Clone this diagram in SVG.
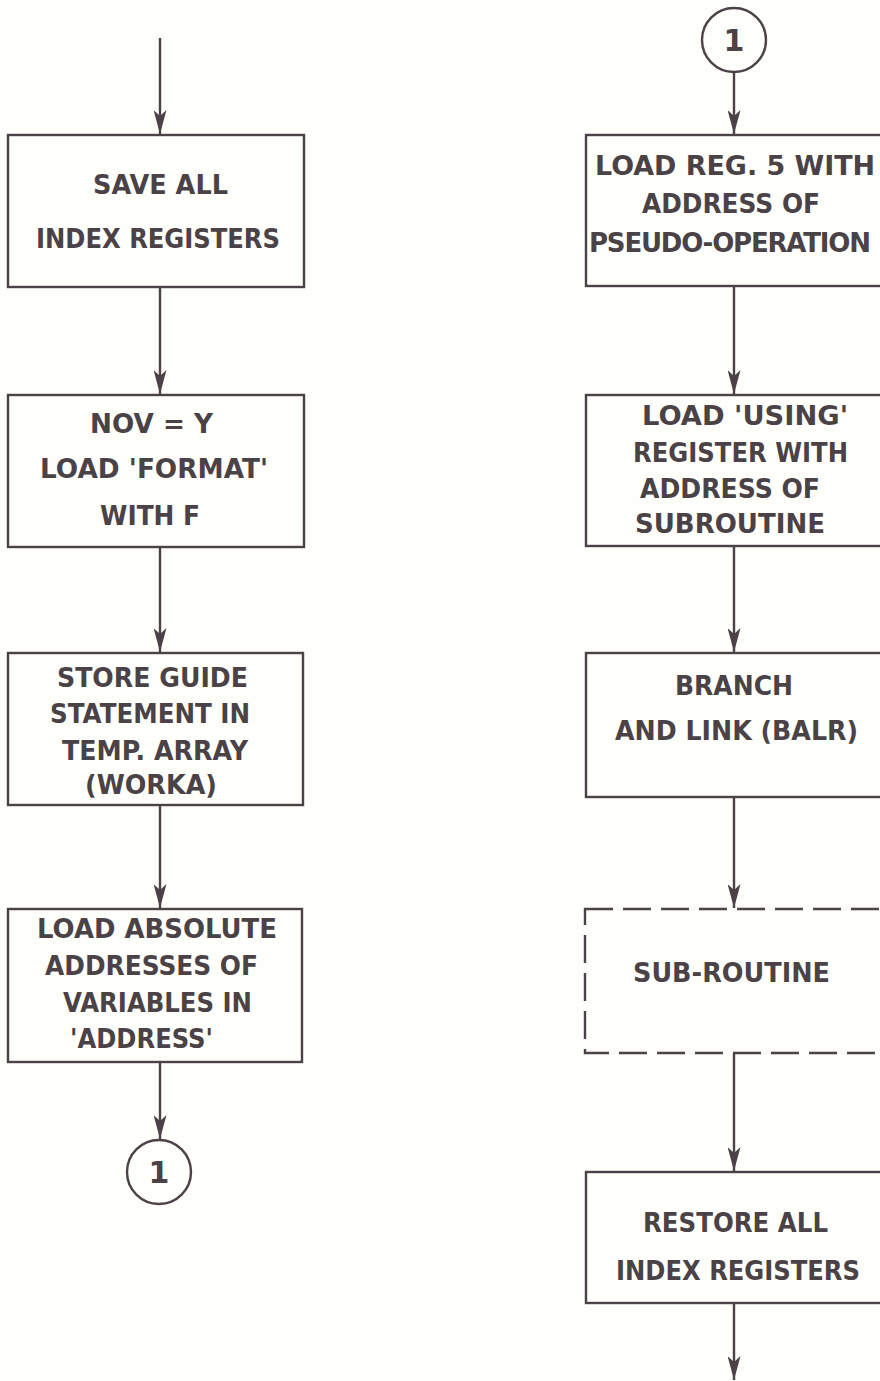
<svg xmlns="http://www.w3.org/2000/svg" width="880" height="1381" viewBox="0 0 880 1381">
<style>
.box{fill:none;stroke:#4a4246;stroke-width:2.4}
.dash{fill:none;stroke:#4a4246;stroke-width:2.4;stroke-dasharray:28 10}
.ln{fill:none;stroke:#4a4246;stroke-width:2.4}
.t{font-family:"DejaVu Sans","Liberation Sans",sans-serif;font-weight:bold;font-size:26px;fill:#4a4246}
.n{font-family:"DejaVu Sans","Liberation Sans",sans-serif;font-weight:bold;font-size:30px;fill:#4a4246}
</style>
<defs>
<marker id="ahd" viewBox="0 0 13 24" refX="6.5" refY="24" markerWidth="13" markerHeight="24" markerUnits="userSpaceOnUse" orient="0">
<path d="M0,0 L6.5,24 L13,0 L6.5,6 Z" fill="#4a4246"/>
</marker>
</defs>
<rect width="880" height="1381" fill="#fefefb"/>
<g id="connectors">
<line class="ln" x1="160" y1="38" x2="160" y2="134" marker-end="url(#ahd)"/>
<line class="ln" x1="160" y1="287" x2="160" y2="394" marker-end="url(#ahd)"/>
<line class="ln" x1="160" y1="547" x2="160" y2="652" marker-end="url(#ahd)"/>
<line class="ln" x1="160" y1="805" x2="160" y2="908" marker-end="url(#ahd)"/>
<line class="ln" x1="160" y1="1062" x2="160" y2="1139" marker-end="url(#ahd)"/>
<line class="ln" x1="734" y1="72" x2="734" y2="134" marker-end="url(#ahd)"/>
<line class="ln" x1="734" y1="286" x2="734" y2="394" marker-end="url(#ahd)"/>
<line class="ln" x1="734" y1="546" x2="734" y2="652" marker-end="url(#ahd)"/>
<line class="ln" x1="734" y1="797" x2="734" y2="908" marker-end="url(#ahd)"/>
<line class="ln" x1="734" y1="1053" x2="734" y2="1171" marker-end="url(#ahd)"/>
<line class="ln" x1="734" y1="1303" x2="734" y2="1380" marker-end="url(#ahd)"/>
</g>
<g id="n1">
<rect class="box" x="8" y="135" width="296" height="152"/>
<text class="t" x="93" y="194" textLength="135" lengthAdjust="spacingAndGlyphs">SAVE ALL</text>
<text class="t" x="36" y="248" textLength="244" lengthAdjust="spacingAndGlyphs">INDEX REGISTERS</text>
</g>
<g id="n2">
<rect class="box" x="8" y="395" width="296" height="152"/>
<text class="t" x="90" y="433" textLength="123" lengthAdjust="spacingAndGlyphs">NOV = Y</text>
<text class="t" x="40" y="478" textLength="228" lengthAdjust="spacingAndGlyphs">LOAD 'FORMAT'</text>
<text class="t" x="100" y="525" textLength="100" lengthAdjust="spacingAndGlyphs">WITH F</text>
</g>
<g id="n3">
<rect class="box" x="8" y="653" width="295" height="152"/>
<text class="t" x="57" y="687" textLength="191" lengthAdjust="spacingAndGlyphs">STORE GUIDE</text>
<text class="t" x="50" y="723" textLength="200" lengthAdjust="spacingAndGlyphs">STATEMENT IN</text>
<text class="t" x="62" y="760" textLength="186" lengthAdjust="spacingAndGlyphs">TEMP. ARRAY</text>
<text class="t" x="85" y="794" textLength="132" lengthAdjust="spacingAndGlyphs">(WORKA)</text>
</g>
<g id="n4">
<rect class="box" x="8" y="909" width="294" height="153"/>
<text class="t" x="37" y="938" textLength="240" lengthAdjust="spacingAndGlyphs">LOAD ABSOLUTE</text>
<text class="t" x="45" y="975" textLength="213" lengthAdjust="spacingAndGlyphs">ADDRESSES OF</text>
<text class="t" x="63" y="1012" textLength="189" lengthAdjust="spacingAndGlyphs">VARIABLES IN</text>
<text class="t" x="70" y="1048" textLength="143" lengthAdjust="spacingAndGlyphs">'ADDRESS'</text>
</g>
<g id="c1a">
<circle class="box" cx="159" cy="1172" r="32"/>
<text class="n" x="159" y="1183" text-anchor="middle">1</text>
</g>
<g id="c1b">
<circle class="box" cx="734" cy="40" r="32"/>
<text class="n" x="734" y="51" text-anchor="middle">1</text>
</g>
<g id="r1">
<rect class="box" x="586" y="135" width="300" height="151"/>
<text class="t" x="595" y="175" textLength="280" lengthAdjust="spacingAndGlyphs">LOAD REG. 5 WITH</text>
<text class="t" x="642" y="213" textLength="178" lengthAdjust="spacingAndGlyphs">ADDRESS OF</text>
<text class="t" x="589" y="252" style="letter-spacing:-1.2px">PSEUDO-OPERATION</text>
</g>
<g id="r2">
<rect class="box" x="586" y="395" width="300" height="151"/>
<text class="t" x="642" y="425" textLength="206" lengthAdjust="spacingAndGlyphs">LOAD 'USING'</text>
<text class="t" x="633" y="462" textLength="215" lengthAdjust="spacingAndGlyphs">REGISTER WITH</text>
<text class="t" x="640" y="498" textLength="180" lengthAdjust="spacingAndGlyphs">ADDRESS OF</text>
<text class="t" x="635" y="533" textLength="190" lengthAdjust="spacingAndGlyphs">SUBROUTINE</text>
</g>
<g id="r3">
<rect class="box" x="586" y="653" width="300" height="144"/>
<text class="t" x="675" y="695" textLength="118" lengthAdjust="spacingAndGlyphs">BRANCH</text>
<text class="t" x="615" y="740" textLength="243" lengthAdjust="spacingAndGlyphs">AND LINK (BALR)</text>
</g>
<g id="r4">
<rect class="dash" x="585" y="909" width="301" height="144"/>
<text class="t" x="633" y="982" textLength="197" lengthAdjust="spacingAndGlyphs">SUB-ROUTINE</text>
</g>
<g id="r5">
<rect class="box" x="586" y="1172" width="300" height="131"/>
<text class="t" x="643" y="1232" textLength="185" lengthAdjust="spacingAndGlyphs">RESTORE ALL</text>
<text class="t" x="616" y="1280" textLength="244" lengthAdjust="spacingAndGlyphs">INDEX REGISTERS</text>
</g>
</svg>
